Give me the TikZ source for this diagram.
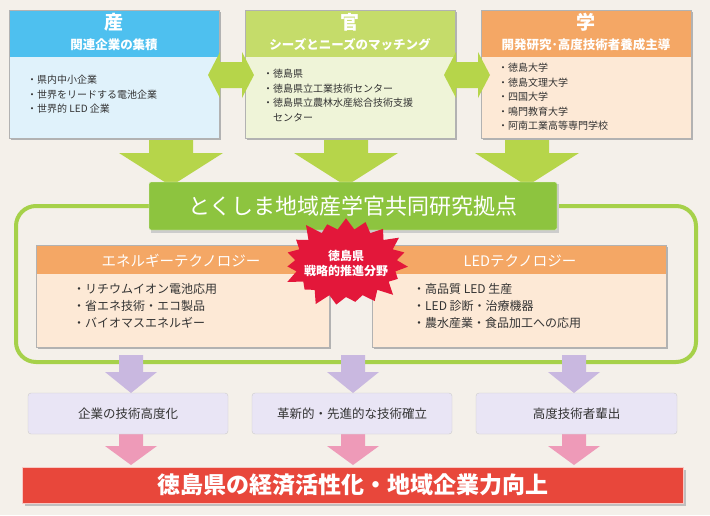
\documentclass[tikz,border=0pt]{standalone}
\usepackage{fontspec}
\setmainfont{Noto Sans CJK JP}
\usetikzlibrary{shapes.symbols}
\definecolor{bg}{HTML}{F4F0EA}
\definecolor{hblue}{HTML}{4EC0EF}
\definecolor{bblue}{HTML}{E0F2FB}
\definecolor{hgreen}{HTML}{C5DC6A}
\definecolor{bgreen}{HTML}{EFF4D8}
\definecolor{horange}{HTML}{F4A765}
\definecolor{borange}{HTML}{FDE9D6}
\definecolor{arrgreen}{HTML}{B6D54A}
\definecolor{banner}{HTML}{8DC43F}
\definecolor{frame}{HTML}{A6D14A}
\definecolor{lav}{HTML}{E9E5F5}
\definecolor{purp}{HTML}{C9B8E0}
\definecolor{pink}{HTML}{EE9AB8}
\definecolor{redbox}{HTML}{E8473B}
\definecolor{star}{HTML}{E3173A}
\begin{document}
\begin{tikzpicture}[x=1pt,y=-1pt,
  head/.style={align=center,inner sep=0pt},
  item/.style={font=\fontsize{10}{14.5}\selectfont,align=left,anchor=north west,inner sep=0pt,text=black!80},
  outbox/.style={fill=lav,draw=gray!40,rounded corners=3pt,minimum height=41pt,inner sep=0pt,font=\fontsize{12.5}{14}\selectfont,text=black!80},
  ]
\fill[bg] (0,0) rectangle (710,515);
\useasboundingbox (0,0) rectangle (710,515);
% frame
\draw[frame,line width=4pt,rounded corners=20pt] (16,206) rectangle (696,362);
% down green arrows
\foreach \cx in {171,346,527}{
 \fill[arrgreen] (\cx-22,138) -- (\cx+22,138) -- (\cx+22,153) -- (\cx+52,153) -- (\cx,186) -- (\cx-52,153) -- (\cx-22,153) -- cycle;
}
% top boxes
\foreach \xa/\xb/\hc/\bc in {9/219/hblue/bblue,245/455/hgreen/bgreen,481/691/horange/borange}{
 \fill[gray!60] (\xa+2,12) rectangle (\xb+2,140);
 \fill[\bc] (\xa,10) rectangle (\xb,138);
 \fill[\hc] (\xa,10) rectangle (\xb,57);
 \draw[gray!60] (\xa,10) rectangle (\xb,138);
}
\node[head,font=\fontsize{19}{20}\selectfont\bfseries\color{white}] (s) at (114,22) {産};
\node[head,font=\fontsize{12.5}{14}\selectfont\bfseries\color{white}] (s2) at (114,45) {関連企業の集積};
\node[head,font=\fontsize{19}{20}\selectfont\bfseries\color{white}] (k) at (350,22) {官};
\node[head,font=\fontsize{12.5}{14}\selectfont\bfseries\color{white}] (k2) at (350,45) {シーズとニーズのマッチング};
\node[head,font=\fontsize{19}{20}\selectfont\bfseries\color{white}] (g) at (586,22) {学};
\node[head,font=\fontsize{12.5}{14}\selectfont\bfseries\color{white}] (g2) at (586,45) {開発研究･高度技術者養成主導};
\node[item] (si) at (27,75) {・県内中小企業\\・世界をリードする電池企業\\・世界的 LED 企業};
\node[item] (ki) at (263,69) {・徳島県\\・徳島県立工業技術センター\\・徳島県立農林水産総合技術支援\\\hspace*{1em}センター};
\node[item] (gi) at (498,63) {・徳島大学\\・徳島文理大学\\・四国大学\\・鳴門教育大学\\・阿南工業高等専門学校};
% double arrows
\foreach \cx in {231,467}{
 \fill[arrgreen] (\cx-23,75) -- (\cx-11,52) -- (\cx-11,62) -- (\cx+11,62) -- (\cx+11,52) -- (\cx+23,75) -- (\cx+11,98) -- (\cx+11,88) -- (\cx-11,88) -- (\cx-11,98) -- cycle;
}
% banner
\fill[gray!40] (151,184) rectangle (559,233);
\node[fill=banner,draw=white!80!banner,minimum width=408pt,minimum height=48pt,rounded corners=2pt,inner sep=0pt,font=\fontsize{22}{24}\selectfont\color{white}] (bn) at (353,206) {とくしま地域産学官共同研究拠点};
% middle boxes
\foreach \xa/\xb in {36/329,372/666}{
 \fill[gray!60] (\xa+2,247) rectangle (\xb+2,349);
 \fill[borange] (\xa,245) rectangle (\xb,347);
 \fill[horange] (\xa,245) rectangle (\xb,274);
 \draw[gray!60] (\xa,245) rectangle (\xb,347);
}
\node[font=\fontsize{14.5}{16}\selectfont\color{white}] (e) at (181,261) {エネルギーテクノロジー};
\node[font=\fontsize{14.5}{16}\selectfont\color{white}] (l) at (520,261) {LEDテクノロジー};
\node[item,font=\fontsize{12}{17}\selectfont] (ei) at (73,283) {・リチウムイオン電池応用\\・省エネ技術・エコ製品\\・バイオマスエネルギー};
\node[item,font=\fontsize{12}{17}\selectfont] (li) at (413,283) {・高品質 LED 生産\\・LED 診断・治療機器\\・農水産業・食品加工への応用};
\node[starburst,starburst points=19,starburst point height=15pt,fill=star,draw=none,minimum width=132pt,minimum height=98pt] (st) at (346,263) {};
\node[font=\fontsize{12}{15}\selectfont\bfseries\color{white},align=center] (stt) at (346,263) {徳島県\\戦略的推進分野};
% purple arrows
\foreach \cx in {131,353,574}{
 \fill[purp] (\cx-12,355) -- (\cx+12,355) -- (\cx+12,372) -- (\cx+26,372) -- (\cx,393) -- (\cx-26,372) -- (\cx-12,372) -- cycle;
}
% pink arrows
\foreach \cx in {131,353,574}{
 \fill[pink] (\cx-12,432) -- (\cx+12,432) -- (\cx+12,446) -- (\cx+26,446) -- (\cx,465) -- (\cx-26,446) -- (\cx-12,446) -- cycle;
}
\node[outbox,minimum width=200pt] (o1) at (128,413.5) {企業の技術高度化};
\node[outbox,minimum width=200pt] (o2) at (352,413.5) {革新的・先進的な技術確立};
\node[outbox,minimum width=201pt] (o3) at (576.5,413.5) {高度技術者輩出};
% bottom
\fill[gray!50] (25,470) rectangle (686,506);
\node[fill=redbox,draw=white!70!redbox,minimum width=661pt,minimum height=36pt,inner sep=0pt,font=\fontsize{23}{24}\selectfont\bfseries\color{white}] (bt) at (352.5,485) {徳島県の経済活性化・地域企業力向上};
\end{tikzpicture}
\end{document}
